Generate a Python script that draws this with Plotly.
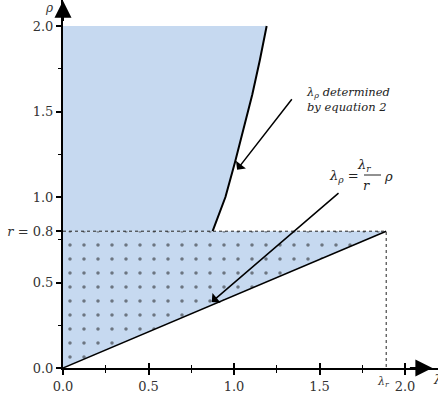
import plotly.graph_objects as go

# Model parameters
r = 0.8
lambda_r = 1.89

# Boundary curve lambda_rho(rho) from equation 2
curve_rho = [0.8, 1.0, 1.2, 1.4, 1.6, 1.8, 2.0]
curve_lambda = [0.875, 0.95, 1.005, 1.058, 1.107, 1.151, 1.191]

# Tick marks and labels
x_tickvals = [0.0, 0.5, 1.0, 1.5, 2.0]
x_ticktext = ["0.0", "0.5", "1.0", "1.5", "2.0"]
y_tickvals = [0.0, 0.5, r, 1.0, 1.5, 2.0]
y_ticktext = ["0.0", "0.5", "<i>r</i> = 0.8", "1.0", "1.5", "2.0"]

W, H = 438, 400
L, B = 63, 32
X_MAX = (W - L) / 171.0
Y_MAX = (H - B) / 171.0

FILL = "#c6d9f0"
FONT = "DejaVu Serif"

# pixel position -> plot-area (paper) fraction
def px(x):
    return (x - L) / (W - L)

def py(y):
    return (H - B - y) / (H - B)

fig = go.Figure()

# Upper shaded region: between the rho axis and the equation-2 curve, above rho = r
fig.add_trace(go.Scatter(
    x=[0.0] + curve_lambda + [0.0],
    y=[curve_rho[0]] + curve_rho + [curve_rho[-1]],
    mode="none", fill="toself", fillcolor=FILL,
    hoverinfo="skip", showlegend=False,
))

# Dotted triangle: below rho = r, above the line lambda_rho = (lambda_r / r) rho
fig.add_trace(go.Scatter(
    x=[0.0, lambda_r, 0.0, 0.0],
    y=[0.0, r, r, 0.0],
    mode="none", fill="toself", fillcolor=FILL,
    fillpattern=dict(shape=".", fgcolor="#111111", bgcolor=FILL,
                     size=14, solidity=0.05),
    hoverinfo="skip", showlegend=False,
))

# Equation-2 curve
fig.add_trace(go.Scatter(
    x=curve_lambda, y=curve_rho, mode="lines",
    line=dict(color="black", width=2),
    hoverinfo="skip", showlegend=False,
))

# Straight line lambda_rho = (lambda_r / r) rho
fig.add_trace(go.Scatter(
    x=[0.0, lambda_r], y=[0.0, r], mode="lines",
    line=dict(color="black", width=1.5),
    hoverinfo="skip", showlegend=False,
))

# Dotted guides at rho = r and lambda = lambda_r
fig.add_trace(go.Scatter(
    x=[0.0, lambda_r, lambda_r], y=[r, r, 0.0], mode="lines",
    line=dict(color="#222222", width=1, dash="dot"),
    hoverinfo="skip", showlegend=False,
))

# Second x axis overlay so major/minor ticks cross the axis line
fig.add_trace(go.Scatter(x=[0], y=[0], xaxis="x2", mode="markers",
                         marker=dict(opacity=0), hoverinfo="skip",
                         showlegend=False))

tickfont = dict(family=FONT, size=13, color="#333333")

fig.update_layout(
    width=W, height=H,
    margin=dict(l=L, r=0, t=0, b=B, pad=0),
    plot_bgcolor="white", paper_bgcolor="white",
    font=dict(family=FONT),
    xaxis=dict(range=[0, X_MAX], showgrid=False, zeroline=False,
               showline=True, linecolor="black", linewidth=2,
               tickvals=x_tickvals, ticktext=x_ticktext,
               ticks="outside", ticklen=5, tickwidth=1.5, tickcolor="black",
               minor=dict(dtick=0.25, tick0=0, ticks="outside", ticklen=3,
                          tickcolor="black", tickwidth=1),
               tickfont=tickfont),
    xaxis2=dict(range=[0, X_MAX], overlaying="x", anchor="y", side="bottom",
                showgrid=False, zeroline=False, showline=False,
                tickvals=x_tickvals, showticklabels=False,
                ticks="inside", ticklen=5, tickwidth=1.5, tickcolor="black",
                minor=dict(dtick=0.25, tick0=0, ticks="inside", ticklen=3,
                           tickcolor="black", tickwidth=1)),
    yaxis=dict(range=[0, Y_MAX], showgrid=False, zeroline=False,
               showline=True, linecolor="black", linewidth=2,
               tickvals=y_tickvals, ticktext=y_ticktext,
               ticks="outside", ticklen=5, tickwidth=1.5, tickcolor="black",
               minor=dict(tickvals=[0.25, 0.75, 1.25, 1.75], ticks="outside",
                          ticklen=3, tickcolor="black", tickwidth=1),
               tickfont=tickfont),
    showlegend=False,
)

ann = []
# Axis arrowheads
ann.append(dict(x=2.16, y=0, ax=2.02, ay=0, xref="x", yref="y",
                axref="x", ayref="y", showarrow=True, arrowhead=2,
                arrowsize=1.7, arrowwidth=2, arrowcolor="black", text=""))
ann.append(dict(x=0, y=Y_MAX - 0.005, ax=0, ay=2.02, xref="x", yref="y",
                axref="x", ayref="y", showarrow=True, arrowhead=2,
                arrowsize=1.7, arrowwidth=2, arrowcolor="black", text=""))

# Axis names
ann.append(dict(x=px(431), y=py(389), xref="paper", yref="paper",
                text="<i>λ</i>", showarrow=False, xanchor="left",
                font=dict(family=FONT, size=13, color="#333333")))
ann.append(dict(x=px(43), y=py(-1), xref="paper", yref="paper",
                text="<i>ρ</i>", showarrow=False, yanchor="top",
                font=dict(family=FONT, size=12, color="#333333")))
# lambda_r label on the x axis
ann.append(dict(x=px(392), y=py(391), xref="paper", yref="paper",
                text="<i>λ<sub>r</sub></i>", showarrow=False,
                font=dict(family=FONT, size=11, color="#333333")))

# Pointer to the equation-2 curve
ann.append(dict(x=1.018, y=1.16, ax=1.345, ay=1.58, xref="x", yref="y",
                axref="x", ayref="y", showarrow=True, arrowhead=1,
                arrowsize=1.4, arrowwidth=1.5, arrowcolor="black", text=""))
ann.append(dict(x=px(304), y=py(83), xref="paper", yref="paper",
                text="<i>λ<sub>ρ</sub> determined</i><br><i>by equation 2</i>",
                showarrow=False, xanchor="left", align="left",
                font=dict(family=FONT, size=11.5, color="#222222")))

# Pointer to the straight line
ann.append(dict(x=0.87, y=0.386, ax=1.62, ay=1.03, xref="x", yref="y",
                axref="x", ayref="y", showarrow=True, arrowhead=1,
                arrowsize=1.4, arrowwidth=1.5, arrowcolor="black", text=""))
eq_font = dict(family=FONT, size=13, color="#222222")
ann.append(dict(x=px(361), y=py(176), xref="paper", yref="paper",
                text="<i>λ<sub>ρ</sub></i> =", showarrow=False,
                xanchor="right", font=eq_font))
ann.append(dict(x=px(373), y=py(165), xref="paper", yref="paper",
                text="<i>λ<sub>r</sub></i>", showarrow=False, font=eq_font))
ann.append(dict(x=px(372), y=py(185), xref="paper", yref="paper",
                text="<i>r</i>", showarrow=False, font=eq_font))
ann.append(dict(x=px(382), y=py(176), xref="paper", yref="paper",
                text="<i>ρ</i>", showarrow=False, xanchor="left",
                font=eq_font))

fig.update_layout(annotations=ann)
fig.add_shape(type="line", xref="paper", yref="paper",
              x0=px(364), x1=px(381), y0=py(175), y1=py(175),
              line=dict(color="#222222", width=1))

fig.write_html("out.html")
